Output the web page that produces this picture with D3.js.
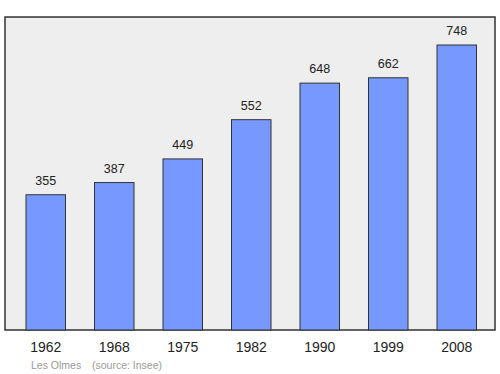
<!DOCTYPE html>
<html>
<head>
<meta charset="utf-8">
<script src="https://d3js.org/d3.v7.min.js"></script>
<style>
  body { margin: 0; background: #fff; }
  text { font-family: "Liberation Sans", Arial, sans-serif; }
</style>
</head>
<body>
<div id="chart-area"></div>
<script>
// population by census year
let years = ["1962", "1968", "1975", "1982", "1990", "1999", "2008"];
let population = [355, 387, 449, 552, 648, 662, 748];
let place = "Les Olmes";
let source = "(source: Insee)";

let width = 500, height = 374;
let plot = {left: 5, top: 17, right: 495, bottom: 330};

var svg = d3.select('#chart-area')
    .append('svg')
    .attr('width', width)
    .attr('height', height);

// plot background
svg.append('rect')
    .attr('x', plot.left)
    .attr('y', plot.top)
    .attr('width', plot.right - plot.left)
    .attr('height', plot.bottom - plot.top)
    .attr('fill', '#eeeeee')
    .attr('stroke', '#333')
    .attr('stroke-width', 1.5);

var x = d3.scaleBand()
    .domain(years)
    .range([26, 476.5])
    .paddingInner(0.4234)
    .paddingOuter(0);

var y = d3.scaleLinear()
    .domain([0, 821.5])
    .range([plot.bottom, plot.top]);

svg.selectAll('rect.bar')
    .data(population)
    .enter()
    .append('rect')
    .attr('class', 'bar')
    .attr('x', (d, i) => x(years[i]))
    .attr('y', d => y(d))
    .attr('width', x.bandwidth())
    .attr('height', d => plot.bottom - y(d))
    .attr('fill', '#7799ff')
    .attr('stroke', '#333')
    .attr('stroke-width', 1);

// value labels
svg.selectAll('text.value')
    .data(population)
    .enter()
    .append('text')
    .attr('class', 'value')
    .attr('x', (d, i) => x(years[i]) + x.bandwidth() / 2)
    .attr('y', d => y(d) - 10)
    .attr('text-anchor', 'middle')
    .attr('font-size', '12.5px')
    .attr('fill', '#222')
    .text(d => d);

// year labels
svg.selectAll('text.year')
    .data(years)
    .enter()
    .append('text')
    .attr('class', 'year')
    .attr('x', d => x(d) + x.bandwidth() / 2)
    .attr('y', 352)
    .attr('text-anchor', 'middle')
    .attr('font-size', '14px')
    .attr('fill', '#222')
    .text(d => d);

// footer
svg.append('text')
    .attr('x', 31)
    .attr('y', 369)
    .attr('font-size', '10.5px')
    .attr('fill', '#999')
    .text(place);

svg.append('text')
    .attr('x', 92)
    .attr('y', 369)
    .attr('font-size', '10.5px')
    .attr('fill', '#999')
    .text(source);
</script>
</body>
</html>
